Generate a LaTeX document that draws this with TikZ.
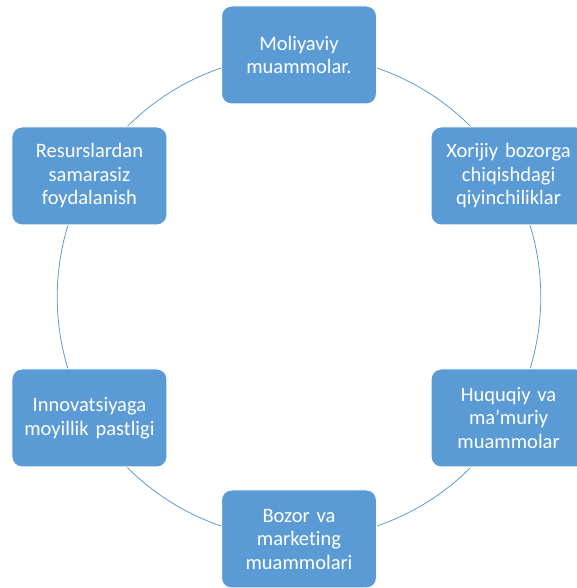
\documentclass[tikz,border=0pt]{standalone}
\usepackage{fontspec}
\setmainfont{Carlito}[Ligatures={NoCommon,NoRare}, WordSpace=0.8]
\usetikzlibrary{positioning, backgrounds}
\definecolor{boxblue}{HTML}{5B9BD5}
\tikzstyle{Box} = [
rectangle, rounded corners=10pt,
fill=boxblue, draw=white, line width=1pt,
minimum width=155pt, minimum height=98pt,
text width=150pt, align=center, inner sep=0pt,
text=white, font=\fontsize{20.5}{23.5}\selectfont]
\tikzstyle{Ring} = [boxblue, line width=0.8pt]

\begin{document}
\begin{tikzpicture}[x=1pt, y=1pt]
    \useasboundingbox (0,0) rectangle (576,588);
    \coordinate (c) at (299,291);
    \node [Box] (1) at ([shift={(90:242)}]c) {Moliyaviy\\muammolar.};
    \node [Box] (2) at ([shift={(30:242)}]c) {Xorijiy bozorga\\chiqishdagi\\qiyinchiliklar};
    \node [Box] (3) at ([shift={(-30:242)}]c) {Huquqiy va\\ma’muriy\\muammolar};
    \node [Box] (4) at ([shift={(-90:242)}]c) {Bozor va\\marketing\\muammolari};
    \node [Box] (5) at ([shift={(-150:242)}]c) {Innovatsiyaga\\moyillik pastligi};
    \node [Box] (6) at ([shift={(150:242)}]c) {Resurslardan\\samarasiz\\foydalanish};
    \begin{scope}[on background layer]
    \draw[Ring] (1.center) to [bend left=30, looseness=0.91] (2.center);
    \draw[Ring] (2.center) to [bend left=30, looseness=0.91] (3.center);
    \draw[Ring] (3.center) to [bend left=30, looseness=0.91] (4.center);
    \draw[Ring] (4.center) to [bend left=30, looseness=0.91] (5.center);
    \draw[Ring] (5.center) to [bend left=30, looseness=0.91] (6.center);
    \draw[Ring] (6.center) to [bend left=30, looseness=0.91] (1.center);
    \end{scope}
\end{tikzpicture}
\end{document}
